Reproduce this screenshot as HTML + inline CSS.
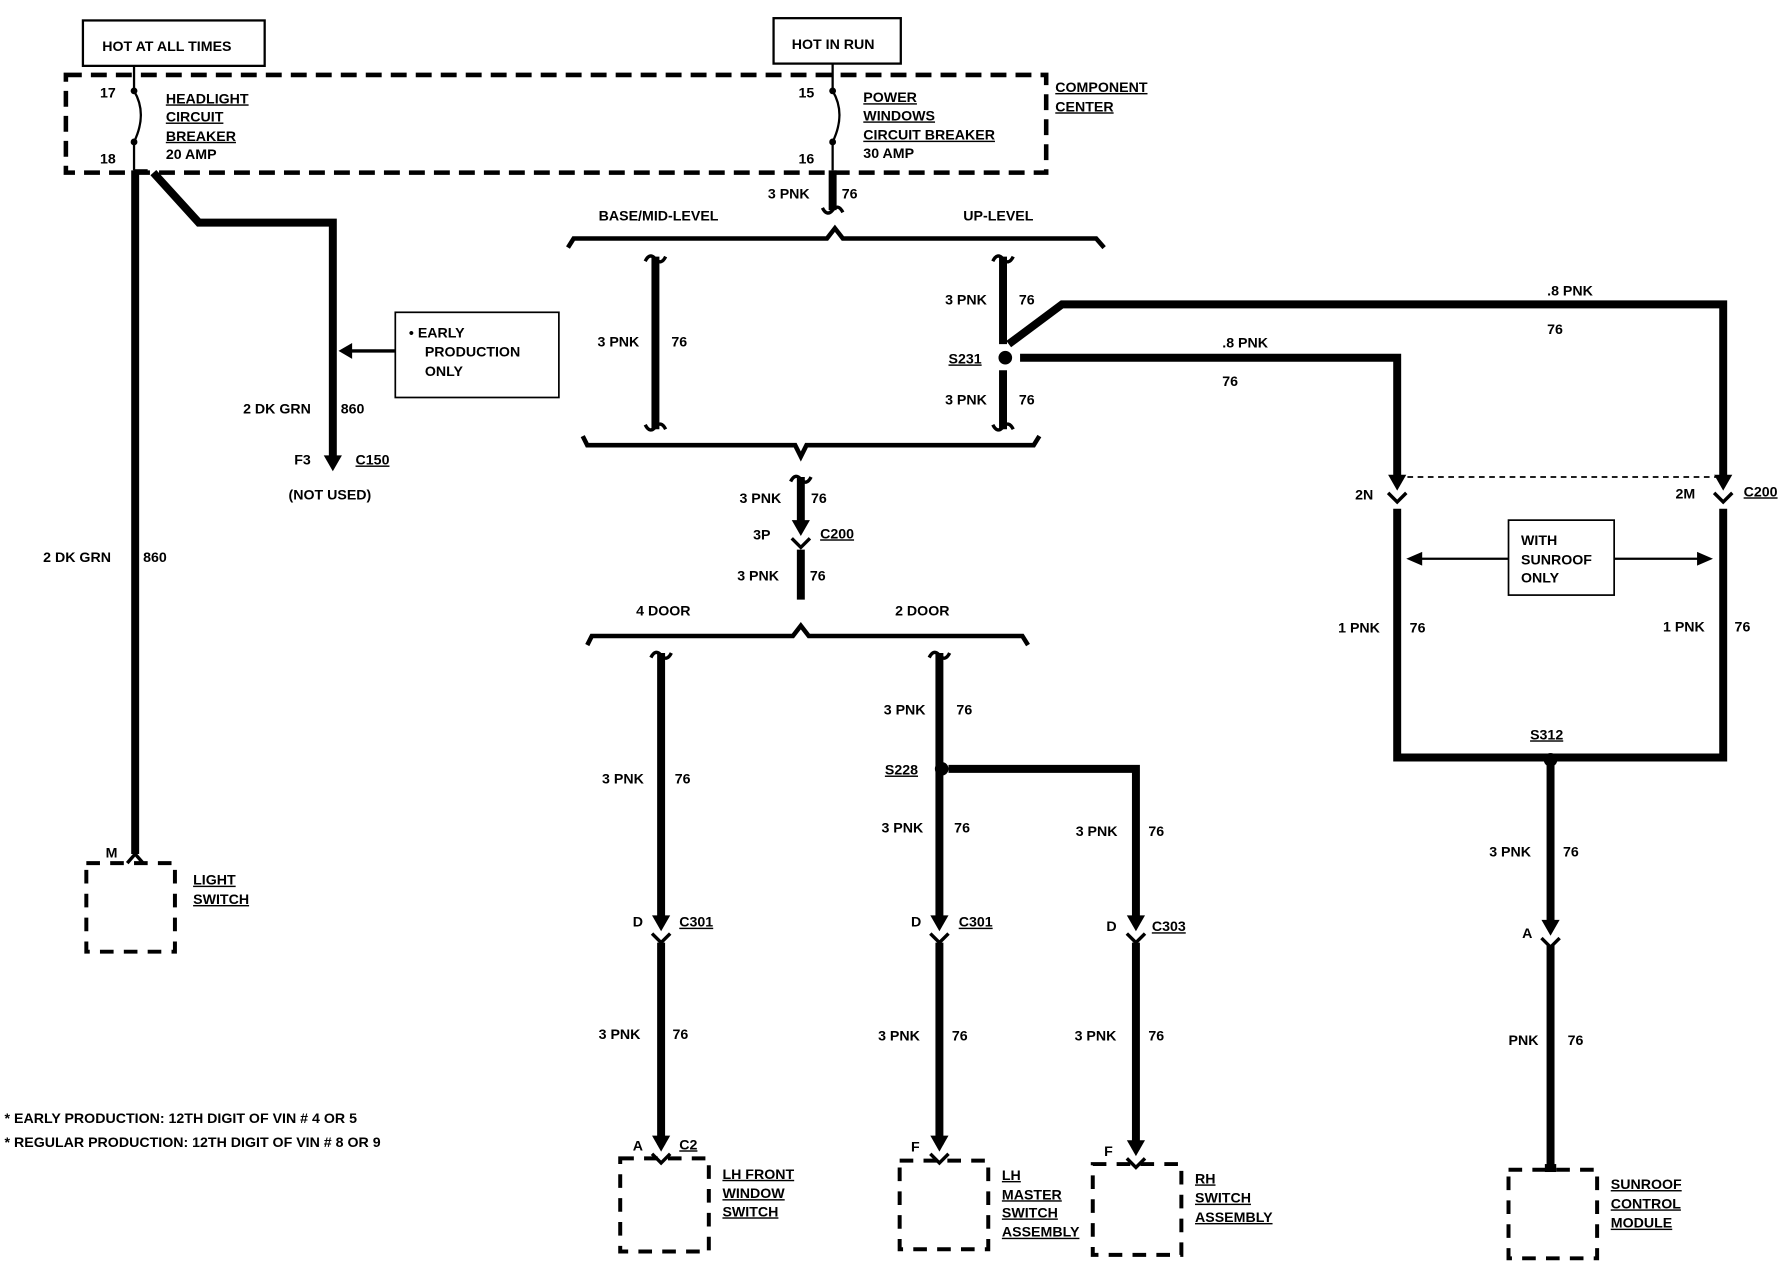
<!DOCTYPE html>
<html><head><meta charset="utf-8"><style>
html,body{margin:0;padding:0;background:#fff;}
svg{display:block;}
text{font-family:"Liberation Sans",sans-serif;font-weight:bold;font-size:12.5px;fill:#000;}
.u{text-decoration:underline;}
</style></head><body>
<svg width="1780" height="1264" viewBox="0 0 1567 1113" preserveAspectRatio="none" xmlns="http://www.w3.org/2000/svg">
<defs>
<g id="curl"><path d="M-9,4 Q-5,-4 0,2 Q5,8 9,0" fill="none" stroke="#000" stroke-width="3"/></g>
<g id="curlb"><path d="M-9,-4 Q-5,4 0,-2 Q5,-8 9,0" fill="none" stroke="#000" stroke-width="3"/></g>
<g id="conn"><polygon points="-8,-12 8,-12 0,2" fill="#000"/><polyline points="-8,4 0,12 8,4" fill="none" stroke="#000" stroke-width="3"/></g>
</defs>
<g fill="none" stroke="#000">
<!-- top boxes -->
<rect x="73" y="18" width="160" height="40" stroke-width="2"/>
<rect x="681" y="16" width="112" height="40" stroke-width="2"/>
<rect x="58" y="66" width="863" height="86" stroke-width="4" stroke-dasharray="14,8"/>
<!-- fuses -->
<path d="M118,58 V80 Q130,100 118,125 V150" stroke-width="2"/>
<path d="M733,56 V80 Q745,100 733,125 V150" stroke-width="2"/>
<path d="M118,150 L130,150" stroke-width="2"/>
<!-- left wires -->
<path d="M119,150 V752" stroke-width="7"/>
<path d="M135,152 L175,196 H293 V405" stroke-width="7"/>
<path d="M348,309 H305" stroke-width="3"/>
<rect x="348" y="275" width="144" height="75" stroke-width="1.5"/>
<!-- fuse2 wire -->
<path d="M733,150 V185" stroke-width="7"/>
<!-- bracket top -->
<path d="M500,218 L505,210 H728 L735,201 L742,210 H965 L972,218" stroke-width="4"/>
<path d="M577,226 V378" stroke-width="7"/>
<path d="M883,226 V303" stroke-width="7"/>
<path d="M883,326 V378" stroke-width="7"/>
<path d="M888,303 L935,268 H1517 V420" stroke-width="7"/>
<path d="M898,315 H1230 V420" stroke-width="7"/>
<!-- bracket 2 -->
<path d="M513,384 L517,392 H700 L705,402 L710,392 H910 L915,384" stroke-width="4"/>
<path d="M705,420 V462" stroke-width="7"/>
<path d="M705,484 V528" stroke-width="7"/>
<!-- bracket 3 -->
<path d="M517,568 L521,560 H698 L705,551 L712,560 H900 L905,568" stroke-width="4"/>
<path d="M582,575 V812" stroke-width="7"/>
<path d="M582,830 V1008" stroke-width="7"/>
<path d="M827,575 V812" stroke-width="7"/>
<path d="M827,830 V1008" stroke-width="7"/>
<path d="M835,677 H1000 V812" stroke-width="7"/>
<path d="M1000,830 V1012" stroke-width="7"/>
<!-- right section -->
<path d="M1230,420 H1517" stroke-width="1.5" stroke-dasharray="5,4"/>
<path d="M1230,448 V667 H1517 V448" stroke-width="7"/>
<path d="M1365,667 V812" stroke-width="7"/>
<path d="M1365,832 V1030" stroke-width="7"/>
<rect x="1328" y="458" width="93" height="66" stroke-width="1.5"/>
<path d="M1328,492 H1245 M1421,492 H1500" stroke-width="2"/>
<!-- dashed component boxes -->
<rect x="76" y="760" width="78" height="78" stroke-width="3.5" stroke-dasharray="12,9"/>
<rect x="546" y="1020" width="78" height="82" stroke-width="3.5" stroke-dasharray="12,9"/>
<rect x="792" y="1022" width="78" height="78" stroke-width="3.5" stroke-dasharray="12,9"/>
<rect x="962" y="1025" width="78" height="80" stroke-width="3.5" stroke-dasharray="12,9"/>
<rect x="1328" y="1030" width="78" height="78" stroke-width="3.5" stroke-dasharray="12,9"/>
<path d="M119,752 L112,760 M119,752 L126,760" stroke-width="3"/>
</g>
<!-- dots -->
<g fill="#000">
<circle cx="118" cy="80" r="3"/><circle cx="118" cy="125" r="3"/>
<circle cx="733" cy="80" r="3"/><circle cx="733" cy="125" r="3"/>
<circle cx="885" cy="315" r="6"/><circle cx="829" cy="677" r="6"/><circle cx="1365" cy="669" r="6"/>
<polygon points="293,415 285,401 301,401"/>
<polygon points="298,309 310,302 310,316"/>
<polygon points="1238,492 1252,486 1252,498"/>
<polygon points="1508,492 1494,486 1494,498"/>
</g>
<!-- curls -->
<use href="#curlb" x="733" y="187"/>
<use href="#curl" x="577" y="226"/><use href="#curlb" x="577" y="378"/>
<use href="#curl" x="883" y="226"/><use href="#curlb" x="883" y="378"/>
<use href="#curl" x="705" y="420"/>
<use href="#curl" x="582" y="575"/><use href="#curl" x="827" y="575"/>
<!-- connectors -->
<use href="#conn" x="1230" y="430"/><use href="#conn" x="1517" y="430"/>
<use href="#conn" x="705" y="470"/>
<use href="#conn" x="582" y="818"/><use href="#conn" x="827" y="818"/><use href="#conn" x="1000" y="818"/>
<use href="#conn" x="1365" y="822"/>
<use href="#conn" x="582" y="1012"/><use href="#conn" x="827" y="1012"/><use href="#conn" x="1000" y="1016"/>
<rect x="1360" y="1025" width="10" height="7" fill="#000"/>
<!-- text -->
<text x="90" y="45">HOT AT ALL TIMES</text>
<text x="697" y="43">HOT IN RUN</text>
<text x="88" y="86">17</text><text x="88" y="144">18</text>
<text x="146" y="91" class="u">HEADLIGHT</text><text x="146" y="107" class="u">CIRCUIT</text>
<text x="146" y="124" class="u">BREAKER</text><text x="146" y="140">20 AMP</text>
<text x="703" y="86">15</text><text x="703" y="144">16</text>
<text x="760" y="90" class="u">POWER</text><text x="760" y="106" class="u">WINDOWS</text>
<text x="760" y="123" class="u">CIRCUIT BREAKER</text><text x="760" y="139">30 AMP</text>
<text x="929" y="81" class="u">COMPONENT</text><text x="929" y="98" class="u">CENTER</text>
<text x="676" y="175">3 PNK</text><text x="741" y="175">76</text>
<text x="527" y="194">BASE/MID-LEVEL</text><text x="848" y="194">UP-LEVEL</text>
<text x="526" y="305">3 PNK</text><text x="591" y="305">76</text>
<text x="832" y="268">3 PNK</text><text x="897" y="268">76</text>
<text x="835" y="320" class="u">S231</text>
<text x="832" y="356">3 PNK</text><text x="897" y="356">76</text>
<text x="1362" y="260">.8 PNK</text><text x="1362" y="294">76</text>
<text x="1076" y="306">.8 PNK</text><text x="1076" y="340">76</text>
<text x="360" y="297">•  EARLY</text><text x="374" y="314">PRODUCTION</text><text x="374" y="331">ONLY</text>
<text x="214" y="364">2 DK GRN</text><text x="300" y="364">860</text>
<text x="259" y="409">F3</text><text x="313" y="409" class="u">C150</text>
<text x="254" y="440">(NOT USED)</text>
<text x="38" y="495">2 DK GRN</text><text x="126" y="495">860</text>
<text x="651" y="443">3 PNK</text><text x="714" y="443">76</text>
<text x="663" y="475">3P</text><text x="722" y="474" class="u">C200</text>
<text x="649" y="511">3 PNK</text><text x="713" y="511">76</text>
<text x="560" y="542">4 DOOR</text><text x="788" y="542">2 DOOR</text>
<text x="1193" y="440">2N</text><text x="1475" y="439">2M</text><text x="1535" y="437" class="u">C200</text>
<text x="1339" y="480">WITH</text><text x="1339" y="497">SUNROOF</text><text x="1339" y="513">ONLY</text>
<text x="1178" y="557">1 PNK</text><text x="1241" y="557">76</text>
<text x="1464" y="556">1 PNK</text><text x="1527" y="556">76</text>
<text x="1347" y="651" class="u">S312</text>
<text x="778" y="629">3 PNK</text><text x="842" y="629">76</text>
<text x="779" y="682" class="u">S228</text>
<text x="530" y="690">3 PNK</text><text x="594" y="690">76</text>
<text x="776" y="733">3 PNK</text><text x="840" y="733">76</text>
<text x="947" y="736">3 PNK</text><text x="1011" y="736">76</text>
<text x="1311" y="754">3 PNK</text><text x="1376" y="754">76</text>
<text x="93" y="755">M</text>
<text x="170" y="779" class="u">LIGHT</text><text x="170" y="796" class="u">SWITCH</text>
<text x="557" y="816">D</text><text x="598" y="816" class="u">C301</text>
<text x="802" y="816">D</text><text x="844" y="816" class="u">C301</text>
<text x="974" y="820">D</text><text x="1014" y="820" class="u">C303</text>
<text x="1340" y="826">A</text>
<text x="527" y="915">3 PNK</text><text x="592" y="915">76</text>
<text x="773" y="916">3 PNK</text><text x="838" y="916">76</text>
<text x="946" y="916">3 PNK</text><text x="1011" y="916">76</text>
<text x="1328" y="920">PNK</text><text x="1380" y="920">76</text>
<text x="4" y="989">*   EARLY PRODUCTION: 12TH DIGIT OF VIN # 4 OR 5</text>
<text x="4" y="1010">*   REGULAR PRODUCTION: 12TH DIGIT OF VIN # 8 OR 9</text>
<text x="557" y="1013">A</text><text x="598" y="1012" class="u">C2</text>
<text x="802" y="1014">F</text><text x="972" y="1018">F</text>
<text x="636" y="1038" class="u">LH FRONT</text><text x="636" y="1055" class="u">WINDOW</text><text x="636" y="1071" class="u">SWITCH</text>
<text x="882" y="1039" class="u">LH</text><text x="882" y="1056" class="u">MASTER</text><text x="882" y="1072" class="u">SWITCH</text><text x="882" y="1089" class="u">ASSEMBLY</text>
<text x="1052" y="1042" class="u">RH</text><text x="1052" y="1059" class="u">SWITCH</text><text x="1052" y="1076" class="u">ASSEMBLY</text>
<text x="1418" y="1047" class="u">SUNROOF</text><text x="1418" y="1064" class="u">CONTROL</text><text x="1418" y="1081" class="u">MODULE</text>
</svg>
</body></html>
